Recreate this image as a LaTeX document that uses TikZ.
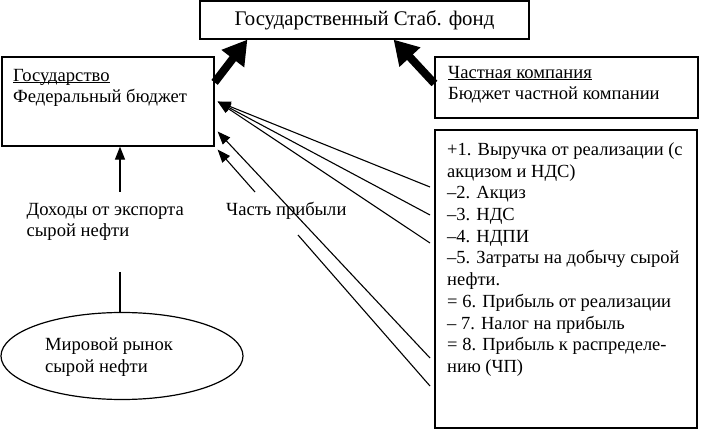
\documentclass[tikz,border=0pt]{standalone}
\usepackage{fontspec}
\setmainfont{Liberation Serif}
\usetikzlibrary{positioning,arrows.meta,shapes.geometric}
\newcommand{\undr}[1]{\underline{\smash{#1}}\vphantom{#1}}

\begin{document}
\begin{tikzpicture}[x=1pt,y=-1pt,
				font=\fontsize{18.6}{21.8}\selectfont,
				box/.style={draw, line width=1.2pt, inner sep=0pt},
				txt/.style={align=left, inner sep=0pt, anchor=north west},
				link/.style={line width=1.1pt},
				thin/.style={link, -{Triangle[length=13pt,width=10pt]}},
				fat/.style={line width=8pt, -{Triangle[length=24pt,width=27pt]}}
				]
				\useasboundingbox (0,0) rectangle (701,430);
				% boxes
				\node[box, minimum width=329pt, minimum height=38pt, font=\fontsize{20.8}{24}\selectfont] (stab) at (364.5,20) {Государственный Стаб. фонд};
				\node[box, minimum width=212pt, minimum height=89pt] (gov) at (108,101.5) {};
				\node[txt] (govtext) at (13,68.7) {\undr{Государство}\\Федеральный бюджет};
				\node[box, minimum width=263pt, minimum height=61pt] (priv) at (566.5,87.5) {};
				\node[txt] (privtext) at (448,65.7) {\undr{Частная компания}\\Бюджет частной компании};
				\node[box, minimum width=262pt, minimum height=298pt] (calc) at (566,279) {};
				\node[txt, font=\fontsize{18.5}{21.7}\selectfont] (calctext) at (447,142.4) {+1. Выручка от реализации (с\\акцизом и НДС)\\–2. Акциз\\–3. НДС\\–4. НДПИ\\–5. Затраты на добычу сырой\\нефти.\\= 6. Прибыль от реализации\\– 7. Налог на прибыль\\= 8. Прибыль к распределе-\\нию (ЧП)};
				\node[box, ellipse, minimum width=242pt, minimum height=87pt] (market) at (122,356) {};
				\node[txt] (markettext) at (45,337.7) {Мировой рынок\\сырой нефти};
				\node[txt] (export) at (26.5,202.7) {Доходы от экспорта\\сырой нефти};
				\node[txt] (share) at (226,202.3) {Часть прибыли};
				% free ends
				\coordinate (r1) at (430,187);
				\coordinate (r2) at (430,215);
				\coordinate (r3) at (430,243);
				\coordinate (r4) at (430,358);
				\coordinate (r5) at (430,386);
				\coordinate (p1) at (298,235);
				\coordinate (p2) at (255,192);
				\coordinate (e1) at (120,192);
				\coordinate (e2) at (120,272);
				% connectors
				\draw[fat] ([yshift=-26pt]gov.north east) -- ([xshift=48pt]stab.south west);
				\draw[fat] ([yshift=4pt]priv.west) -- ([xshift=-136pt]stab.south east);
				\draw[thin] (r1) -- ([xshift=3pt]gov.east);
				\draw[thin] (r2) -- ([xshift=3pt]gov.east);
				\draw[thin] (r3) -- ([xshift=3pt]gov.east);
				\draw[thin] (r4) -- ([xshift=3pt,yshift=-30pt]gov.east);
				\draw[link] (r5) -- (p1);
				\draw[thin] (p2) -- ([xshift=3pt,yshift=-3pt]gov.south east);
				\draw[thin] (e1) -- (e1 |- gov.south);
				\draw[link] (e2) -- (e2 |- market.north);
			\end{tikzpicture}
\end{document}
